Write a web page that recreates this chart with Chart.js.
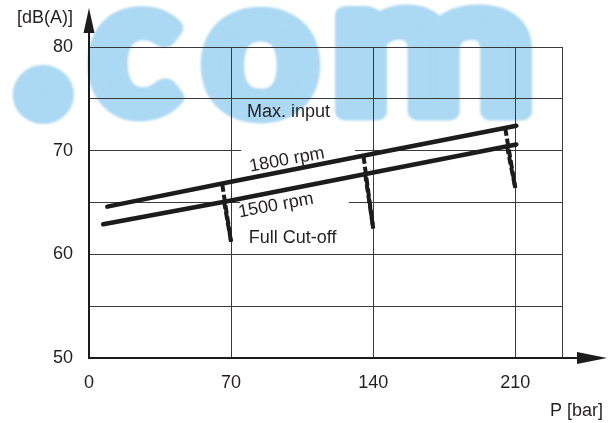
<!DOCTYPE html>
<html>
<head>
<meta charset="utf-8">
<script src="https://cdn.jsdelivr.net/npm/chart.js@4"></script>
<style>
  html, body { margin: 0; padding: 0; background: #ffffff; }
  #wrap { width: 611px; height: 423px; position: relative; }
</style>
</head>
<body>
<div id="wrap"><canvas id="chart" width="611" height="423"></canvas></div>
<script>
// Axis tick values
const pressureTicks = [0, 70, 140, 210];
const pressureEnd = 233;
const dbTicks = [50, 60, 70, 80];

// Noise level at maximum input, 1800 rpm
const pMax1800 = [9, 70, 140, 210.5];
const dbMax1800 = [64.6, 67.0, 69.7, 72.4];

// Noise level at maximum input, 1500 rpm
const pMax1500 = [7, 70, 140, 210.5];
const dbMax1500 = [62.9, 65.2, 67.9, 70.6];

// Full cut-off branches: start on each rpm line, end at the cut-off point
const cutoffStartP1800 = [65.6, 135.2, 205];
const cutoffStartDb1800 = [66.8, 69.5, 72.2];
const cutoffStartP1500 = [66.5, 136, 205.9];
const cutoffStartDb1500 = [65.15, 67.8, 70.45];
const cutoffEndP = [70, 140, 210];
const cutoffEndDb = [61.2, 62.5, 66.4];

const INK = '#1c1c1c';
const TEXT = '#231f20';
const GRID = '#3a3a3a';
const FONT = "'Liberation Sans', Arial, sans-serif";

const toPoints = (xs, ys) => xs.map((x, i) => ({ x: x, y: ys[i] }));

const datasets = [
  { label: '1800 rpm', data: toPoints(pMax1800, dbMax1800), borderColor: INK, borderWidth: 4.5,
    pointRadius: 0, borderCapStyle: 'round', tension: 0 },
  { label: '1500 rpm', data: toPoints(pMax1500, dbMax1500), borderColor: INK, borderWidth: 4.5,
    pointRadius: 0, borderCapStyle: 'round', tension: 0 }
];
cutoffEndP.forEach((p, i) => {
  [[cutoffStartP1800[i], cutoffStartDb1800[i]], [cutoffStartP1500[i], cutoffStartDb1500[i]]].forEach(s => {
    datasets.push({
      label: 'Full Cut-off',
      data: toPoints([s[0], p], [s[1], cutoffEndDb[i]]),
      borderColor: INK, borderWidth: 4, borderDash: [8, 3],
      pointRadius: 0, borderCapStyle: 'butt', tension: 0
    });
  });
});

// Curve labels in data coordinates
const curveLabels = [
  { text: 'Max. input', x: 98.3, y: 73.7, angle: 0 },
  { text: '1800 rpm', x: 97.5, y: 69.1, angle: -10.5 },
  { text: '1500 rpm', x: 92.1, y: 64.7, angle: -10.5 },
  { text: 'Full Cut-off', x: 100.3, y: 61.6, angle: 0 }
];
// Grid segments hidden behind the rotated rpm labels
const gridGaps = [
  { y: 70, from: 75, to: 131 },
  { y: 65, from: 74.5, to: 128 }
];

// Large light-blue ".com" lettering behind the plot
const watermarkPlugin = {
  id: 'watermark',
  beforeDraw(chart) {
    const ctx = chart.ctx;
    const glyphs = [
      { ch: '.', box: [12, 63, 74, 123] },
      { ch: 'c', box: [87, 6, 185, 121] },
      { ch: 'o', box: [200, 7, 321, 123] },
      { ch: 'm', box: [335, 5, 533, 121] }
    ];
    ctx.save();
    ctx.font = "bold 200px Lato, 'DejaVu Sans', sans-serif";
    ctx.fillStyle = 'rgb(171,216,243)';
    ctx.strokeStyle = 'rgb(171,216,243)';
    ctx.lineWidth = 18;
    ctx.lineJoin = 'round';
    ctx.textAlign = 'left';
    ctx.textBaseline = 'alphabetic';
    ctx.filter = 'blur(1px)';
    const h = ctx.lineWidth / 2;
    glyphs.forEach(g => {
      const m = ctx.measureText(g.ch);
      const l = -m.actualBoundingBoxLeft - h, r = m.actualBoundingBoxRight + h;
      const t = -m.actualBoundingBoxAscent - h, b = m.actualBoundingBoxDescent + h;
      const sx = (g.box[2] - g.box[0]) / (r - l);
      const sy = (g.box[3] - g.box[1]) / (b - t);
      ctx.save();
      ctx.translate(g.box[0] - l * sx, g.box[1] - t * sy);
      ctx.scale(sx, sy);
      ctx.fillText(g.ch, 0, 0);
      ctx.strokeText(g.ch, 0, 0);
      ctx.restore();
    });
    ctx.restore();
  }
};

const annotationPlugin = {
  id: 'annotations',
  beforeDatasetsDraw(chart) {
    const ctx = chart.ctx, xs = chart.scales.x, ys = chart.scales.y;
    ctx.save();
    ctx.fillStyle = '#ffffff';
    gridGaps.forEach(g => {
      const x0 = xs.getPixelForValue(g.from), x1 = xs.getPixelForValue(g.to);
      const y = ys.getPixelForValue(g.y);
      ctx.fillRect(x0, y - 2, x1 - x0, 4);
    });
    ctx.restore();
  },
  afterDatasetsDraw(chart) {
    const ctx = chart.ctx, xs = chart.scales.x, ys = chart.scales.y;
    ctx.save();
    ctx.fillStyle = TEXT;
    ctx.font = '18px ' + FONT;
    ctx.textAlign = 'center';
    ctx.textBaseline = 'middle';
    curveLabels.forEach(l => {
      ctx.save();
      ctx.translate(xs.getPixelForValue(l.x), ys.getPixelForValue(l.y));
      ctx.rotate(l.angle * Math.PI / 180);
      ctx.fillText(l.text, 0, 0);
      ctx.restore();
    });
    ctx.restore();
  },
  afterDraw(chart) {
    const ctx = chart.ctx, a = chart.chartArea;
    ctx.save();
    ctx.strokeStyle = INK;
    ctx.fillStyle = INK;
    ctx.lineWidth = 2;
    // vertical axis extension with arrow
    ctx.beginPath();
    ctx.moveTo(a.left, a.top);
    ctx.lineTo(a.left, 30);
    ctx.stroke();
    ctx.beginPath();
    ctx.moveTo(a.left, 8);
    ctx.lineTo(a.left - 5.5, 33);
    ctx.lineTo(a.left + 5.5, 33);
    ctx.closePath();
    ctx.fill();
    // horizontal axis extension with arrow
    ctx.beginPath();
    ctx.moveTo(a.right, a.bottom);
    ctx.lineTo(580, a.bottom);
    ctx.stroke();
    ctx.beginPath();
    ctx.moveTo(607, a.bottom);
    ctx.lineTo(577, a.bottom - 6);
    ctx.lineTo(577, a.bottom + 6);
    ctx.closePath();
    ctx.fill();
    // axis titles
    ctx.fillStyle = TEXT;
    ctx.font = '18px ' + FONT;
    ctx.textBaseline = 'middle';
    ctx.textAlign = 'right';
    ctx.fillText('[dB(A)]', 73, 18);
    ctx.fillText('P [bar]', 603, 411);
    ctx.restore();
  }
};

new Chart(document.getElementById('chart'), {
  type: 'line',
  data: { datasets: datasets },
  options: {
    responsive: false,
    animation: false,
    layout: { padding: { left: 20, top: 47, right: 49, bottom: 0 } },
    plugins: { legend: { display: false }, tooltip: { enabled: false } },
    scales: {
      x: {
        type: 'linear',
        min: 0,
        max: pressureEnd,
        afterBuildTicks: s => { s.ticks = pressureTicks.concat([pressureEnd]).map(v => ({ value: v })); },
        afterFit: s => { s.height = 65; },
        ticks: {
          autoSkip: false, maxRotation: 0, padding: 14, color: TEXT,
          font: { family: FONT, size: 18 },
          callback: v => pressureTicks.includes(v) ? String(v) : ''
        },
        grid: { color: GRID, lineWidth: 1, drawTicks: false },
        border: { color: INK, width: 2 }
      },
      y: {
        min: 50,
        max: 80,
        afterFit: s => { s.width = 69; },
        ticks: {
          stepSize: 5, padding: 16, color: TEXT,
          font: { family: FONT, size: 18 },
          callback: v => dbTicks.includes(v) ? String(v) : ''
        },
        grid: { color: GRID, lineWidth: 1, drawTicks: false },
        border: { color: INK, width: 2 }
      }
    }
  },
  plugins: [watermarkPlugin, annotationPlugin]
});
</script>
</body>
</html>
